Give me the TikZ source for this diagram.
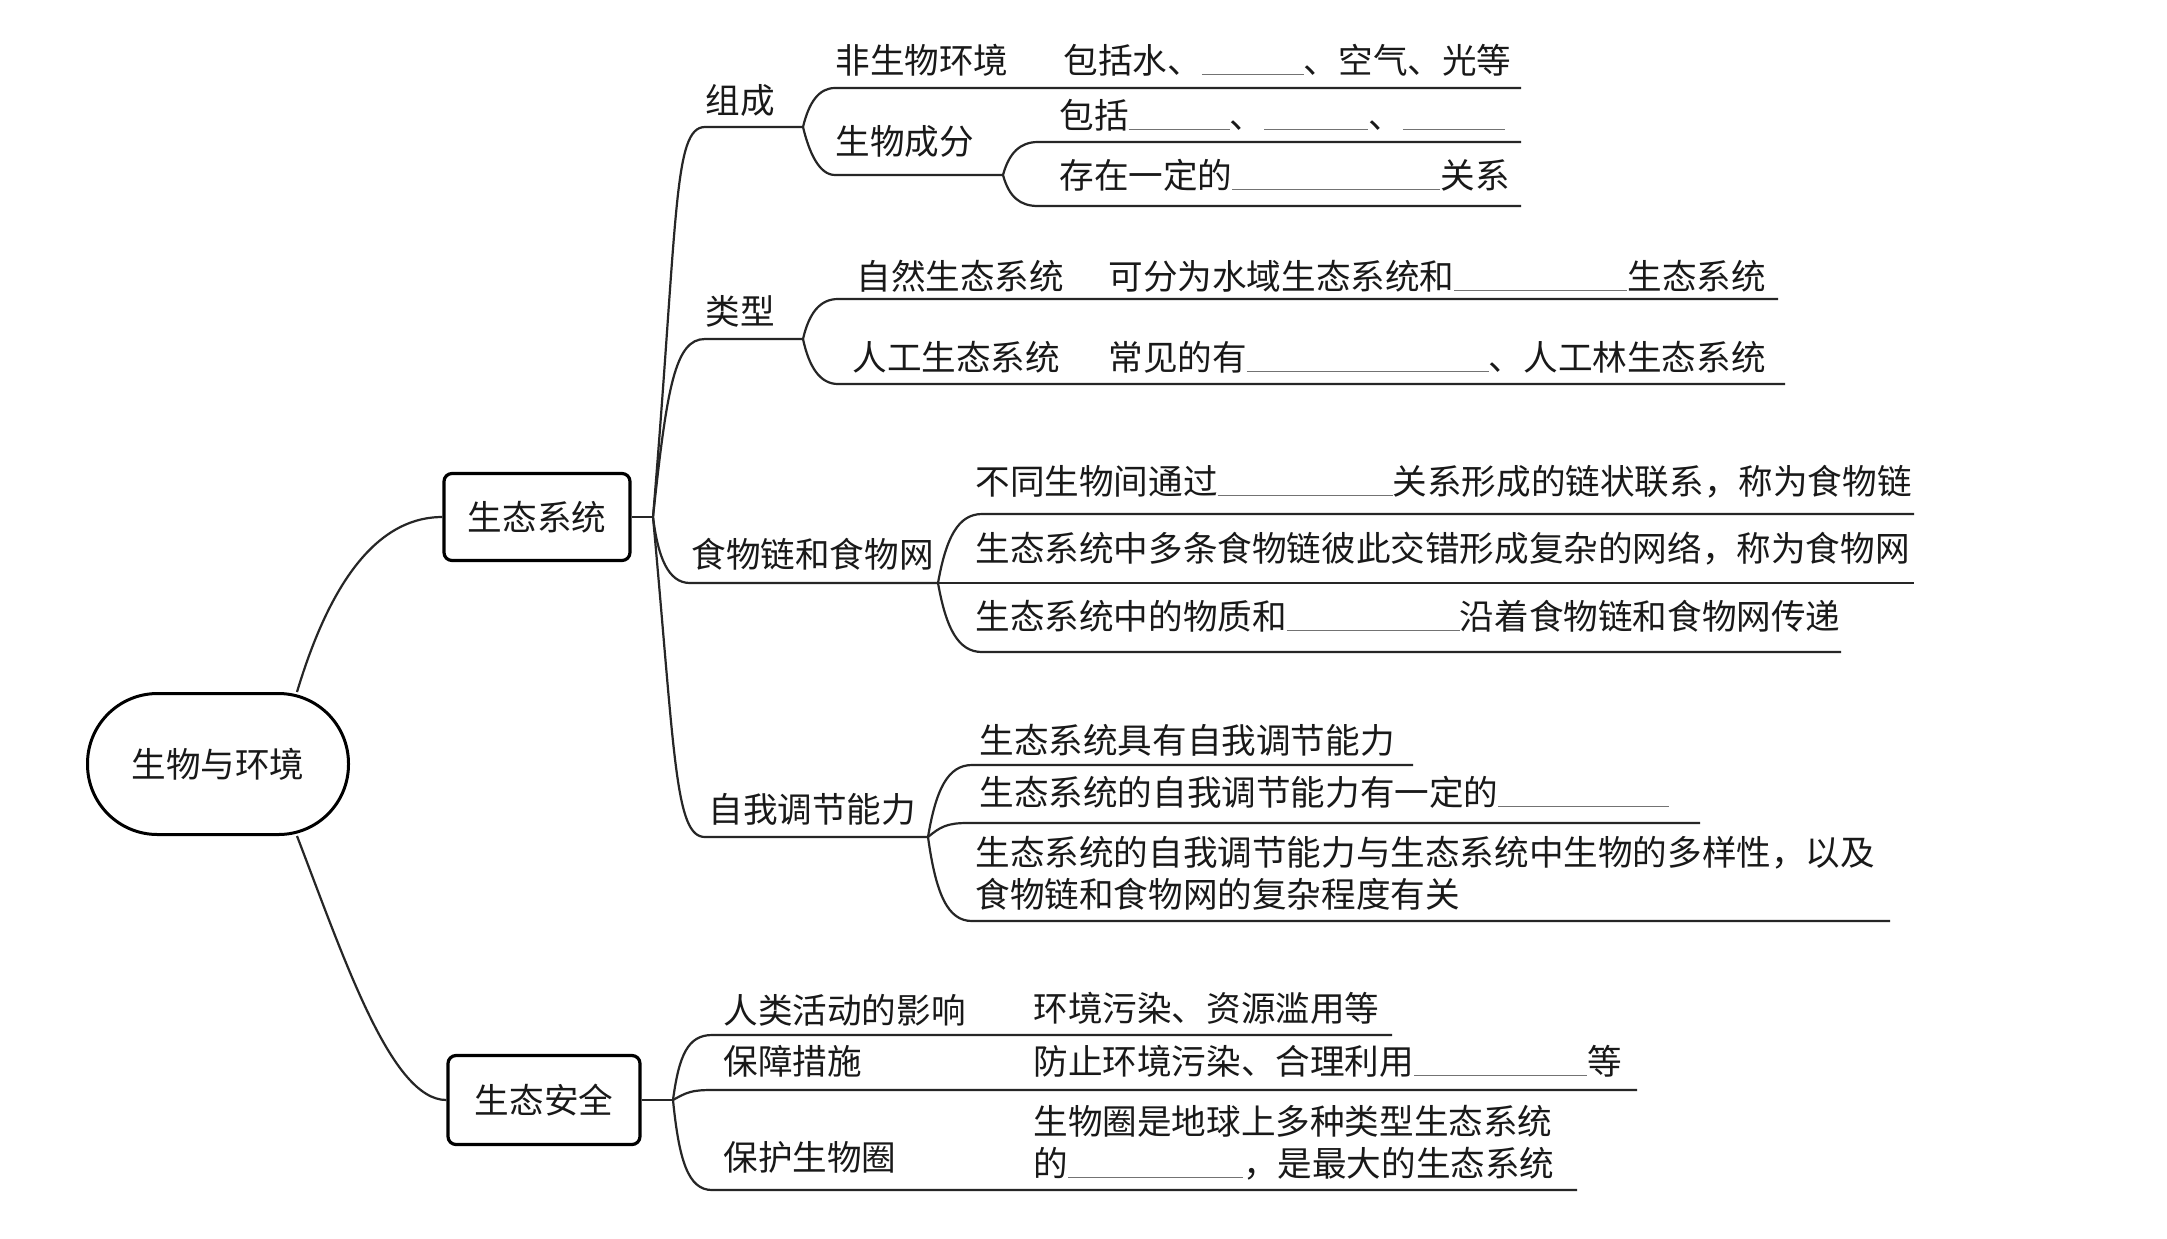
\documentclass[tikz,border=0pt]{standalone}
\usepackage{fontspec}
\setmainfont{Noto Sans CJK SC}
\usetikzlibrary{calc}
\newcommand{\pxunit}{0.5pt}
\newcommand{\fillblank}[1]{\textcolor{black!55}{\rule[-1.2pt]{#1}{0.6pt}}}
\tikzset{
    rootsty/.style={draw,line width=1.5pt,rectangle,rounded corners=35pt,minimum width=130.5pt,minimum height=70.5pt,inner sep=0pt},
    boxsty/.style={draw,line width=1.6pt,rectangle,rounded corners=4pt,inner sep=0pt},
    txtsty/.style={anchor=base west,inner sep=0pt,align=left},
    linesty/.style={line width=1.1pt,draw=black!85},
}

\begin{document}
\begin{tikzpicture}[x=\pxunit,y=-\pxunit,font=\fontsize{17.3}{21}\selectfont,text=black!90]
  \useasboundingbox[fill=white] (0,0) rectangle (2167,1238);

  % main topics
  \node[rootsty] (root) at (218,764) {生物与环境};
  \node[boxsty,minimum width=93pt,minimum height=43.5pt] (st) at (537,517) {生态系统};
  \node[boxsty,minimum width=96pt,minimum height=44.5pt] (aq) at (544,1100) {生态安全};

  \draw[linesty] ([xshift=-26.5pt]root.north east) .. controls +(30,-100) and +(-70,0) .. (st.west);
  \draw[linesty] ([xshift=-26.5pt]root.south east) .. controls +(48,125) and +(-55,0) .. (aq.west);

  % labels
  \node[txtsty] (zc) at (705,113) {组成};
  \node[txtsty] (lx) at (705,324) {类型};
  \node[txtsty] (sw) at (691,567) {食物链和食物网};
  \node[txtsty] (tj) at (708,822) {自我调节能力};
  \node[txtsty] (rl) at (723,1023) {人类活动的影响};
  \node[txtsty] (bz) at (723,1074) {保障措施};
  \node[txtsty] (bh) at (723,1170) {保护生物圈};

  \node[txtsty] (fs) at (835,73) {非生物环境};
  \node[txtsty] (fsd) at (1063,73) {包括水、\fillblank{51pt}、空气、光等};
  \node[txtsty] (sf) at (835,154) {生物成分};
  \node[txtsty] (bk) at (1059,128) {包括\fillblank{50.5pt}、\fillblank{52pt}、\fillblank{51pt}};
  \node[txtsty] (cz) at (1059,188) {存在一定的\fillblank{104pt}关系};
  \node[txtsty] (zr) at (856,289) {自然生态系统};
  \node[txtsty] (zrd) at (1108,289) {可分为水域生态系统和\fillblank{86.5pt}生态系统};
  \node[txtsty] (rg) at (852,370) {人工生态系统};
  \node[txtsty] (rgd) at (1108,370) {常见的有\fillblank{121pt}、人工林生态系统};
  \node[txtsty] (bt) at (975,494) {不同生物间通过\fillblank{87.5pt}关系形成的链状联系，称为食物链};
  \node[txtsty] (dt) at (975,561) {生态系统中多条食物链彼此交错形成复杂的网络，称为食物网};
  \node[txtsty] (wz) at (975,629) {生态系统中的物质和\fillblank{86.5pt}沿着食物链和食物网传递};
  \node[txtsty] (jy) at (979,753) {生态系统具有自我调节能力};
  \node[txtsty] (yd) at (979,805) {生态系统的自我调节能力有一定的\fillblank{85.5pt}};
  % two-line texts sit on their last baseline
  \node[txtsty] (yj) at (975,907) {生态系统的自我调节能力与生态系统中生物的多样性，以及\\食物链和食物网的复杂程度有关};
  \node[txtsty] (rld) at (1033,1021) {环境污染、资源滥用等};
  \node[txtsty] (bzd) at (1033,1074) {防止环境污染、合理利用\fillblank{86.5pt}等};
  \node[txtsty] (bhd) at (1033,1176) {生物圈是地球上多种类型生态系统\\的\fillblank{87.5pt}，是最大的生态系统};

  % underline ends
  \coordinate (sthub) at (653,517);
  \coordinate (aqhub) at (673,1100);
  \coordinate (zc-s) at (705,127);   \coordinate (zc-e) at (803,127);
  \coordinate (lx-s) at (705,339);   \coordinate (lx-e) at (803,339);
  \coordinate (sw-s) at (690,583);   \coordinate (sw-e) at (938,583);
  \coordinate (tj-s) at (705,837);   \coordinate (tj-e) at (928,837);
  \coordinate (rl-s) at (712,1035);  \coordinate (rl-e) at (1392,1035);
  \coordinate (bz-s) at (712,1090);  \coordinate (bz-e) at (1637,1090);
  \coordinate (bh-s) at (712,1190);  \coordinate (bh-e) at (1577,1190);
  \coordinate (fs-s) at (835,88);    \coordinate (fs-e) at (1521,88);
  \coordinate (sf-s) at (835,175);   \coordinate (sf-e) at (1003,175);
  \coordinate (bk-s) at (1038,142);  \coordinate (bk-e) at (1521,142);
  \coordinate (cz-s) at (1038,206);  \coordinate (cz-e) at (1521,206);
  \coordinate (zr-s) at (838,299);   \coordinate (zr-e) at (1778,299);
  \coordinate (rg-s) at (838,384);   \coordinate (rg-e) at (1785,384);
  \coordinate (bt-s) at (982,514);   \coordinate (bt-e) at (1914,514);
  \coordinate (dt-e) at (1914,583);
  \coordinate (wz-s) at (982,652);   \coordinate (wz-e) at (1841,652);
  \coordinate (jy-s) at (972,765);   \coordinate (jy-e) at (1413,765);
  \coordinate (yd-s) at (967,823);   \coordinate (yd-e) at (1700,823);
  \coordinate (yj-s) at (972,921);   \coordinate (yj-e) at (1890,921);

  % branches of the first topic
  \draw[linesty] (st.east) -- (sthub);
  \draw[linesty] (sthub) .. controls +(25,-300) and +(-32,0) .. (zc-s) -- (zc-e);
  \draw[linesty] (sthub) .. controls +(14,-130) and +(-30,0) .. (lx-s) -- (lx-e);
  \draw[linesty] (sthub) .. controls +(5,40) and +(-22,0) .. (sw-s) -- (sw-e);
  \draw[linesty] (sthub) .. controls +(22,240) and +(-30,0) .. (tj-s) -- (tj-e);

  \draw[linesty] (zc-e) .. controls +(6,-25) and +(-16,0) .. (fs-s) -- (fs-e);
  \draw[linesty] (zc-e) .. controls +(6,25) and +(-16,0) .. (sf-s) -- (sf-e);
  \draw[linesty] (sf-e) .. controls +(6,-22) and +(-18,0) .. (bk-s) -- (bk-e);
  \draw[linesty] (sf-e) .. controls +(6,22) and +(-18,0) .. (cz-s) -- (cz-e);

  \draw[linesty] (lx-e) .. controls +(6,-26) and +(-18,0) .. (zr-s) -- (zr-e);
  \draw[linesty] (lx-e) .. controls +(6,28) and +(-18,0) .. (rg-s) -- (rg-e);

  \draw[linesty] (sw-e) .. controls +(8,-45) and +(-24,0) .. (bt-s) -- (bt-e);
  \draw[linesty] (sw-e) -- (dt-e);
  \draw[linesty] (sw-e) .. controls +(8,45) and +(-24,0) .. (wz-s) -- (wz-e);

  \draw[linesty] (tj-e) .. controls +(8,-48) and +(-24,0) .. (jy-s) -- (jy-e);
  \draw[linesty] (tj-e) .. controls +(12,-10) and +(-20,0) .. (yd-s) -- (yd-e);
  \draw[linesty] (tj-e) .. controls +(8,58) and +(-24,0) .. (yj-s) -- (yj-e);

  % branches of the second topic
  \draw[linesty] (aq.east) -- (aqhub);
  \draw[linesty] (aqhub) .. controls +(6,-45) and +(-24,0) .. (rl-s) -- (rl-e);
  \draw[linesty] (aqhub) .. controls +(14,-8) and +(-20,0) .. (bz-s) -- (bz-e);
  \draw[linesty] (aqhub) .. controls +(6,60) and +(-24,0) .. (bh-s) -- (bh-e);
\end{tikzpicture}
\end{document}
